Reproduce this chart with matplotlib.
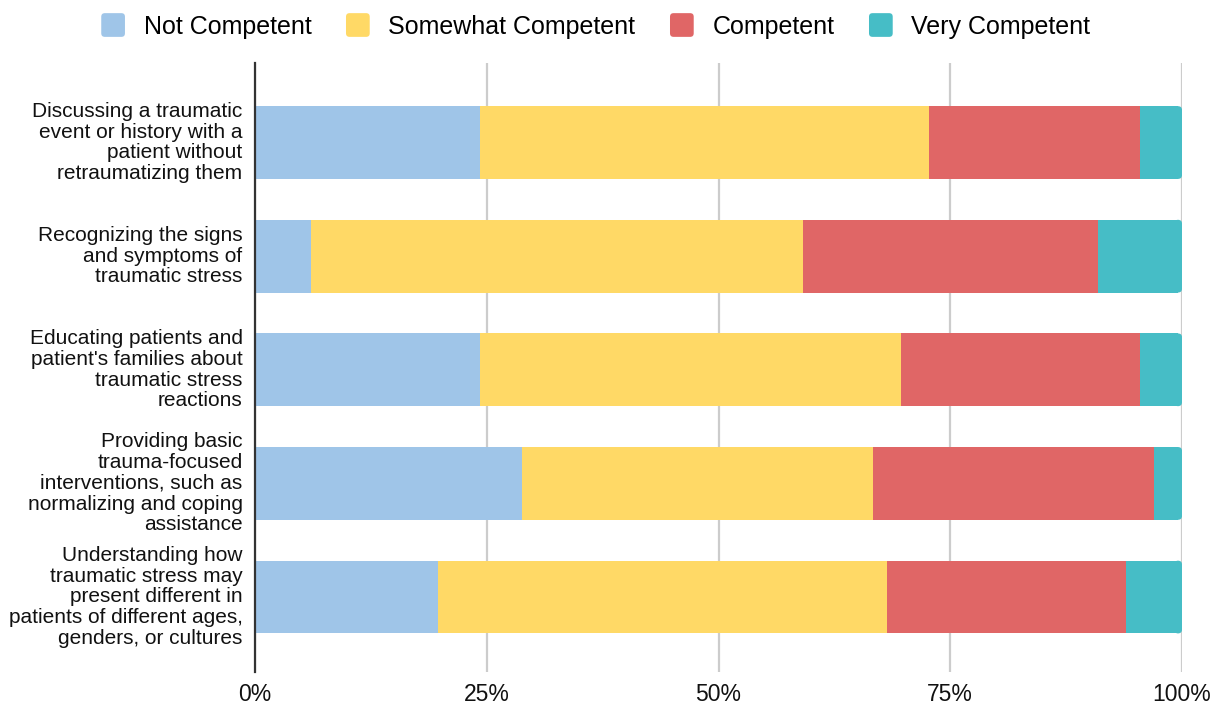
import matplotlib

matplotlib.use("Agg")
import matplotlib.pyplot as plt
import numpy as np
from matplotlib.legend_handler import HandlerPatch
from matplotlib.patches import FancyBboxPatch, Patch
from matplotlib.ticker import FuncFormatter
from matplotlib.transforms import ScaledTranslation

plt.rcParams["font.family"] = ["Liberation Sans", "DejaVu Sans"]

# Survey responses (n = 66) per skill, by self-rated competence
skills = [
    "Discussing a traumatic\nevent or history with a\npatient without\nretraumatizing them",
    "Recognizing the signs\nand symptoms of\ntraumatic stress",
    "Educating patients and\npatient's families about\ntraumatic stress\nreactions",
    "Providing basic\ntrauma-focused\ninterventions, such as\nnormalizing and coping\nassistance",
    "Understanding how\ntraumatic stress may\npresent different in\npatients of different ages,\ngenders, or cultures",
]
levels = ["Not Competent", "Somewhat Competent", "Competent", "Very Competent"]
not_competent = [16, 4, 16, 19, 13]
somewhat_competent = [32, 35, 30, 25, 32]
competent = [15, 21, 17, 20, 17]
very_competent = [3, 6, 3, 2, 4]
colors = ["#9fc5e8", "#ffd966", "#e06666", "#46bdc6"]

counts = np.array([not_competent, somewhat_competent, competent, very_competent], dtype=float)
shares = counts / counts.sum(axis=0)

BAR_H = 0.64
YLIM = (4.66, -0.7)

fig = plt.figure(figsize=(12.22, 7.08), dpi=100)
ax = fig.add_axes([0.2087, 0.0508, 0.7586, 0.8602])
ax.set_xlim(0, 1.0)
ax.set_ylim(*YLIM)

# data units per pixel on each axis, so the rounded corners stay circular
bbox = ax.get_window_extent()
x_per_px = 1.0 / bbox.width
y_per_px = abs(YLIM[0] - YLIM[1]) / bbox.height
radius = 4 * x_per_px

y = np.arange(len(skills))
left = np.zeros(len(skills))
last = len(shares) - 1
for k, (share, color) in enumerate(zip(shares, colors)):
    if k < last:
        ax.barh(y, share, left=left, height=BAR_H, color=color, zorder=3)
    else:
        # last segment: square left part plus a rounded cap at the right end
        ax.barh(y, share - radius, left=left, height=BAR_H, color=color, zorder=3)
        for yi, right in zip(y, left + share):
            ax.add_patch(FancyBboxPatch(
                (right - 2 * radius, yi - BAR_H / 2), 2 * radius, BAR_H,
                boxstyle=f"round,pad=0,rounding_size={radius}",
                mutation_aspect=y_per_px / x_per_px,
                facecolor=color, edgecolor="none", zorder=3,
            ))
    left += share

ax.set_xticks([0, 0.25, 0.5, 0.75, 1.0])
ax.xaxis.set_major_formatter(FuncFormatter(lambda v, _: f"{v * 100:.0f}%"))
ax.set_yticks(y)
ax.set_yticklabels(skills, fontsize=15, linespacing=1.12)
ax.tick_params(axis="x", length=0, labelsize=16.5, pad=8, colors="#111111")
ax.tick_params(axis="y", length=0, pad=9, colors="#111111")
nudge = ScaledTranslation(0, 3 / 100, fig.dpi_scale_trans)
for lab in ax.get_yticklabels():
    lab.set_transform(lab.get_transform() + nudge)

ax.grid(axis="x", color="#cccccc", linewidth=1.6, zorder=0)
for side in ["top", "right", "bottom"]:
    ax.spines[side].set_visible(False)
ax.spines["left"].set_color("#333333")
ax.spines["left"].set_linewidth(1.6)
ax.spines["left"].set_zorder(4)


def rounded_square(legend, orig_handle, xdescent, ydescent, width, height, fontsize):
    side = min(width, height) * 1.06
    return FancyBboxPatch(
        (-xdescent + (width - side) / 2, -ydescent + (height - side) / 2), side, side,
        boxstyle=f"round,pad=0,rounding_size={side * 0.15}",
    )


handles = [Patch(facecolor=c, edgecolor="none", label=lv) for lv, c in zip(levels, colors)]
fig.legend(
    handles=handles,
    loc="center",
    bbox_to_anchor=(0.4873, 0.963),
    ncol=4,
    frameon=False,
    fontsize=18,
    handlelength=1.0,
    handleheight=1.0,
    handletextpad=0.72,
    columnspacing=1.36,
    handler_map={Patch: HandlerPatch(patch_func=rounded_square)},
)

fig.savefig("out.png", dpi=100)
plt.close(fig)
